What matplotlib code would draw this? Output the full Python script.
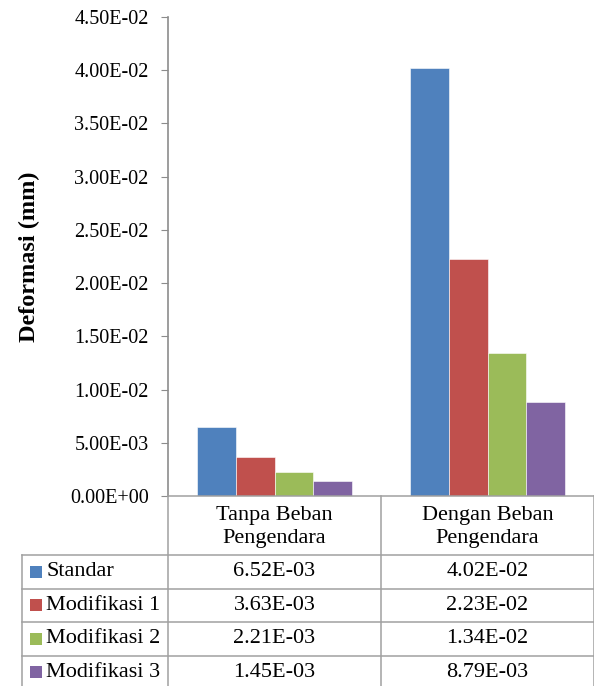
import matplotlib.pyplot as plt
import matplotlib.transforms as mtransforms
from matplotlib.patches import Rectangle
import numpy as np

plt.rcParams['font.family'] = ['Liberation Serif', 'DejaVu Serif']

categories = ['Tanpa Beban\nPengendara', 'Dengan Beban\nPengendara']
series = ['Standar', 'Modifikasi 1', 'Modifikasi 2', 'Modifikasi 3']
values = {
    'Standar': [6.52e-3, 4.02e-2],
    'Modifikasi 1': [3.63e-3, 2.23e-2],
    'Modifikasi 2': [2.21e-3, 1.34e-2],
    'Modifikasi 3': [1.45e-3, 8.79e-3],
}
colors = ['#4F81BD', '#C0504D', '#9BBB59', '#8064A2']
yticks = np.arange(0, 0.0451, 0.005)

W, H = 594, 686
fig = plt.figure(figsize=(W / 100, H / 100), dpi=100)

# chart area (pixel layout converted to figure fractions)
ax = fig.add_axes([168 / W, 1 - 496 / H, 426 / W, 479 / H])
x = np.arange(len(categories))
n = len(series)
bw = 1 / (n + 1.5)
for i, (name, c) in enumerate(zip(series, colors)):
    ax.bar(x + (i - (n - 1) / 2) * bw, values[name], width=bw, color=c,
           edgecolor='white', linewidth=0.4, zorder=2)

ax.set_xlim(-0.5, len(categories) - 0.5)
ax.set_ylim(0, 0.045)
ax.set_yticks(yticks)
ax.set_yticklabels([f'{v:.2E}' for v in yticks], fontsize=14.5)
ax.set_xticks([])
for s in ['top', 'right', 'bottom']:
    ax.spines[s].set_visible(False)
ax.spines['left'].set_color('#8c8c8c')
ax.spines['left'].set_linewidth(1.2)
ax.tick_params(axis='y', length=5, color='#8c8c8c', pad=9)
ax.set_ylabel('Deformasi (mm)', fontsize=17.5, fontweight='bold')
ax.yaxis.set_label_coords(-0.30, 0.5)

# data table underneath the bars
tax = fig.add_axes([0, 0, 1, 190 / H])
tax.set_xlim(0, W)
tax.set_ylim(190, 0)
tax.axis('off')
blend = mtransforms.blended_transform_factory(ax.transData, tax.transData)

line_kw = dict(color='#a0a0a0', lw=1.1, clip_on=False)
row_lines = [59, 92.5, 126, 159.5, 193]
tax.plot([168, W], [0, 0], **line_kw)
for yl in row_lines[:-1]:
    tax.plot([22, W], [yl, yl], **line_kw)
tax.plot([22, 22], [59, 193], **line_kw)
for xb in np.arange(len(categories) + 1) - 0.5:
    tax.plot([xb, xb], [0, 193], transform=blend, **line_kw)

for j, cat in enumerate(categories):
    tax.text(j, 31, cat, transform=blend, ha='center', va='center',
             fontsize=16, linespacing=1.25)

for i, (name, c) in enumerate(zip(series, colors)):
    yc = (row_lines[i] + row_lines[i + 1]) / 2
    tax.add_patch(Rectangle((30, yc - 6), 12, 12, facecolor=c, edgecolor='none'))
    tax.text(46, yc, name, ha='left', va='center', fontsize=16)
    for j in range(len(categories)):
        tax.text(j, yc, f'{values[name][j]:.2E}', transform=blend,
                 ha='center', va='center', fontsize=16)

fig.savefig('out.png', dpi=100)
